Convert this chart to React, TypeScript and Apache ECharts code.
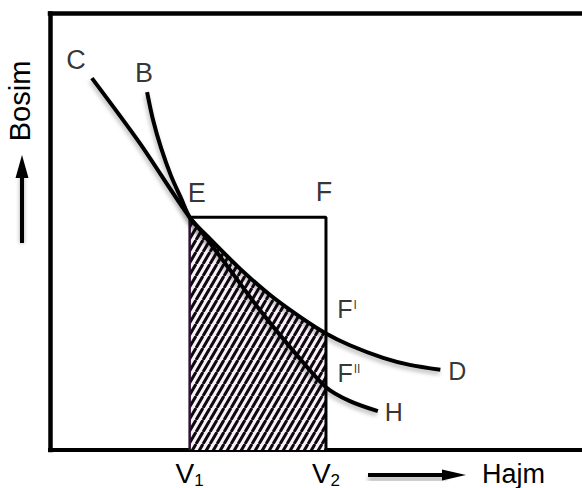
import React, { useEffect, useRef } from 'react';
import * as echarts from 'echarts';

// Volumes bounding the worked region and the pressure at the crossing point E
const V1 = 2.1;
const V2 = 4.15;
const pE = 5.33;

// Curve C–D (passes E and F')
const cdVolume = [0.63, 1.35, 2.1, 2.41, 2.86, 3.31, 3.76, 4.15, 4.51, 5.01, 5.41, 5.87];
const cdPressure = [8.52, 7.03, 5.33, 4.83, 4.15, 3.55, 3.05, 2.67, 2.4, 2.11, 1.95, 1.84];

// Curve B–H (passes E and F'')
const bhVolume = [1.46, 1.55, 1.67, 1.82, 1.97, 2.1, 2.26, 2.71, 3.2, 3.71, 4.15, 4.51, 4.93];
const bhPressure = [8.2, 7.56, 6.92, 6.28, 5.77, 5.33, 5.04, 4.12, 3.12, 2.18, 1.44, 1.12, 0.89];

const axisTicks = ['V1', 'V2'];

const FONT = "'Liberation Sans', Arial, Helvetica, sans-serif";

function makeHatch(): HTMLCanvasElement {
  const w = 7;
  const h = 12;
  const c = document.createElement('canvas');
  c.width = w;
  c.height = h;
  const g = c.getContext('2d')!;
  g.fillStyle = '#fbf1fb';
  g.fillRect(0, 0, w, h);
  g.strokeStyle = '#0e090e';
  g.lineWidth = 3;
  for (const dx of [-w, 0, w]) {
    g.beginPath();
    g.moveTo(dx, h);
    g.lineTo(dx + w, 0);
    g.stroke();
  }
  return c;
}

export default function App() {
  const ref = useRef<HTMLDivElement>(null);

  useEffect(() => {
    if (!ref.current) return;
    const chart = echarts.init(ref.current, null, { renderer: 'svg' });

    const cd = cdVolume.map((v, i) => [v, cdPressure[i]]);
    const bh = bhVolume.map((v, i) => [v, bhPressure[i]]);
    const hatchTop = cd.filter(([v]) => v >= V1 - 1e-9 && v <= V2 + 1e-9);

    const cdAtV2 = cdPressure[cdVolume.indexOf(V2)];
    const bhAtV2 = bhPressure[bhVolume.indexOf(V2)];

    const hatch = makeHatch();

    const curveShadow = {
      shadowColor: 'rgba(0,0,0,0.28)',
      shadowBlur: 4,
      shadowOffsetX: -1,
      shadowOffsetY: 3,
    };

    const big = { fontSize: 27, color: '#000', fontFamily: FONT };
    const mid = { fontSize: 25, color: '#000', fontFamily: FONT };

    const pointLabels = [
      { name: 'C', value: cd[0], offset: [-16, -18], style: big },
      { name: 'B', value: bh[0], offset: [-3, -19], style: big },
      { name: 'E', value: [V1, pE], offset: [7, -24], style: big },
      { name: 'F', value: [V2, pE], offset: [-2, -25], style: big },
      { name: "F'", value: [V2, cdAtV2], offset: [21, -24], text: '{f|F}{s|I}' },
      { name: "F''", value: [V2, bhAtV2], offset: [23, -14], text: '{f|F}{s|II}' },
      { name: 'D', value: cd[cd.length - 1], offset: [17, 1], style: mid },
      { name: 'H', value: bh[bh.length - 1], offset: [16, 1], style: mid },
    ];

    chart.setOption({
      animation: false,
      backgroundColor: '#ffffff',
      grid: {
        left: 50,
        right: 0,
        top: 13.5,
        bottom: 38,
        outerBoundsMode: 'none',
        containLabel: false,
      },
      xAxis: [
        {
          type: 'value',
          min: 0,
          max: 8,
          axisLine: { show: true, onZero: false, lineStyle: { color: '#000', width: 4, cap: 'square' } },
          axisTick: { show: false },
          splitLine: { show: false },
          axisLabel: {
            show: true,
            customValues: [V1, V2],
            margin: 8,
            formatter: (val: number) => {
              const name = Math.abs(val - V1) < 1e-6 ? axisTicks[0] : axisTicks[1];
              return `{v|${name[0]}}{s|${name.slice(1)}}`;
            },
            rich: {
              v: { fontSize: 28, lineHeight: 30, color: '#000', fontFamily: FONT },
              s: { fontSize: 17, lineHeight: 30, color: '#000', fontFamily: FONT, padding: [14, 0, 0, 0] },
            },
          },
        },
        {
          type: 'value',
          position: 'top',
          min: 0,
          max: 8,
          axisLine: { show: true, onZero: false, lineStyle: { color: '#000', width: 4.5, cap: 'square' } },
          axisTick: { show: false },
          splitLine: { show: false },
          axisLabel: { show: false },
        },
      ],
      yAxis: {
        type: 'value',
        min: 0,
        max: 10,
        axisLine: { show: true, onZero: false, lineStyle: { color: '#000', width: 4.5, cap: 'square' } },
        axisTick: { show: false },
        splitLine: { show: false },
        axisLabel: { show: false },
      },
      series: [
        {
          name: 'hatch',
          type: 'line',
          data: hatchTop,
          smooth: 0.3,
          symbol: 'none',
          lineStyle: { width: 0, opacity: 0 },
          areaStyle: {
            color: { image: hatch, repeat: 'repeat', imageWidth: hatch.width, imageHeight: hatch.height },
            opacity: 1,
          },
          z: 1,
          silent: true,
        },
        {
          name: 'rect',
          type: 'line',
          data: [
            [V1, pE],
            [V2, pE],
            [V2, 0],
          ],
          symbol: 'none',
          lineStyle: { color: '#000', width: 3 },
          z: 2,
          silent: true,
        },
        {
          name: 'rectLeft',
          type: 'line',
          data: [
            [V1, 0],
            [V1, pE],
          ],
          symbol: 'none',
          lineStyle: { color: '#2a1230', width: 2.5 },
          z: 2,
          silent: true,
        },
        {
          name: 'C-D',
          type: 'line',
          data: cd,
          smooth: 0.3,
          symbol: 'none',
          lineStyle: { color: '#000', width: 4, ...curveShadow },
          z: 3,
          silent: true,
        },
        {
          name: 'B-H',
          type: 'line',
          data: bh,
          smooth: 0.3,
          symbol: 'none',
          lineStyle: { color: '#000', width: 4, ...curveShadow },
          z: 3,
          silent: true,
        },
        {
          name: 'points',
          type: 'scatter',
          symbolSize: 0,
          z: 4,
          silent: true,
          data: pointLabels.map((p) => ({
            name: p.name,
            value: p.value,
            label: {
              show: true,
              position: 'inside',
              offset: p.offset,
              align: 'center',
              verticalAlign: 'middle',
              formatter: p.text ?? p.name,
              color: '#000',
              textBorderWidth: 0,
              ...(p.style ?? {}),
              rich: {
                f: { fontSize: 25, color: '#000', fontFamily: FONT, lineHeight: 28, textBorderWidth: 0 },
                s: {
                  fontSize: 12,
                  color: '#000',
                  fontFamily: FONT,
                  lineHeight: 28,
                  padding: [0, 0, 8, 1],
                  textBorderWidth: 0,
                },
              },
            },
          })),
        },
      ],
      graphic: [
        // pressure axis caption with upward arrow
        {
          type: 'text',
          x: 20,
          y: 101,
          rotation: Math.PI / 2,
          style: {
            text: 'Bosim',
            fontSize: 29,
            fontFamily: FONT,
            fill: '#000',
            align: 'center',
            verticalAlign: 'middle',
            textAlign: 'center',
            textVerticalAlign: 'middle',
          },
        },
        {
          type: 'rect',
          shape: { x: 20, y: 172, width: 4, height: 71 },
          style: { fill: '#000', shadowColor: 'rgba(0,0,0,0.35)', shadowBlur: 4 },
        },
        {
          type: 'polygon',
          shape: { points: [[15.5, 178], [28.5, 178], [22, 155]] },
          style: { fill: '#000' },
        },
        // volume axis caption with rightward arrow
        {
          type: 'rect',
          shape: { x: 368, y: 473, width: 78, height: 4 },
          style: { fill: '#000', shadowColor: 'rgba(0,0,0,0.35)', shadowBlur: 4, shadowOffsetY: 4 },
        },
        {
          type: 'polygon',
          shape: { points: [[442, 469.5], [442, 480.5], [466, 475]] },
          style: { fill: '#000' },
        },
        {
          type: 'text',
          x: 482,
          y: 474,
          style: {
            text: 'Hajm',
            fontSize: 27,
            fontFamily: FONT,
            fill: '#000',
            align: 'left',
            verticalAlign: 'middle',
            textAlign: 'left',
            textVerticalAlign: 'middle',
          },
        },
      ],
    });

    return () => chart.dispose();
  }, []);

  return (
    <div
      ref={ref}
      style={{ position: 'fixed', left: 0, top: 0, width: 582, height: 488, background: '#fff' }}
    />
  );
}
